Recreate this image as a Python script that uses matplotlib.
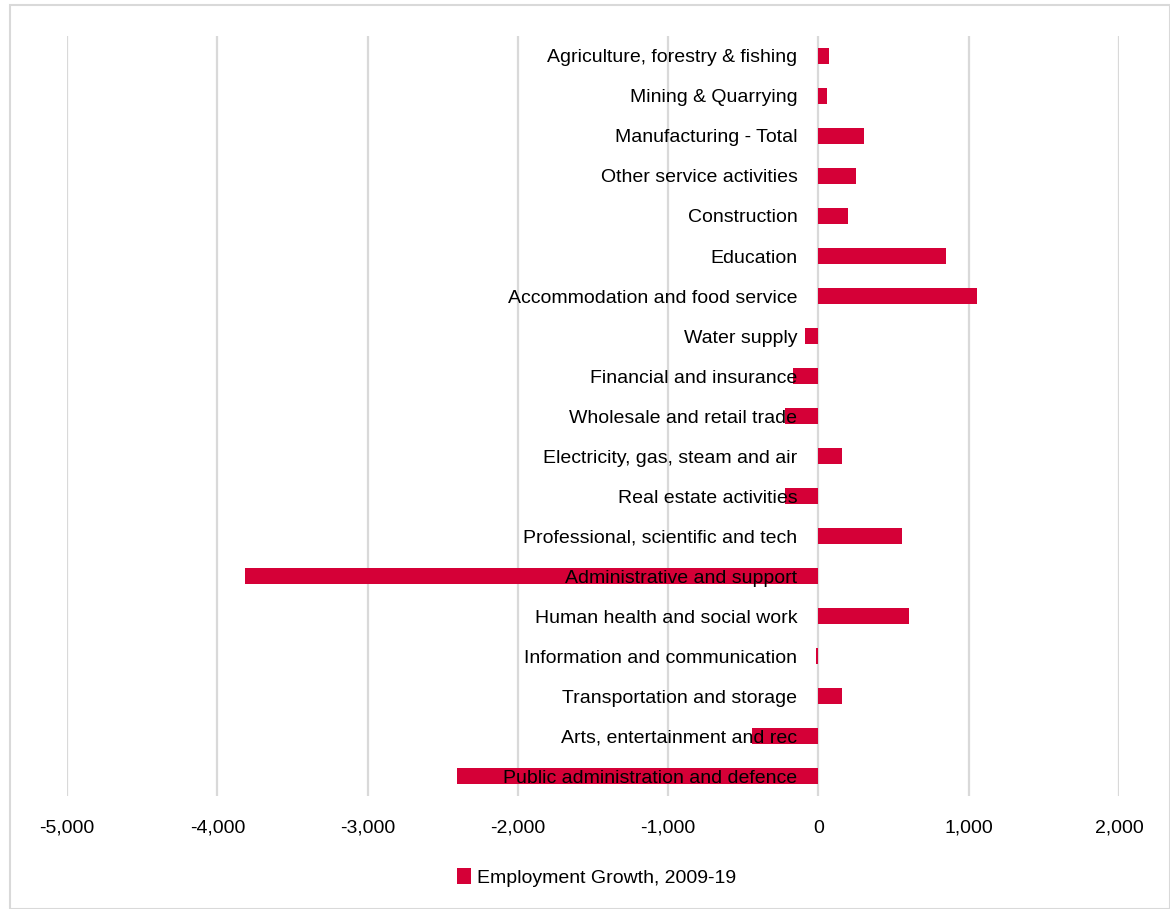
import matplotlib.pyplot as plt
from matplotlib.patches import Rectangle
from matplotlib.ticker import FuncFormatter

plt.rcParams['font.family'] = ['Liberation Sans Narrow', 'Liberation Sans', 'DejaVu Sans']

sectors = [
    "Agriculture, forestry & fishing",
    "Mining & Quarrying",
    "Manufacturing - Total",
    "Other service activities",
    "Construction",
    "Education",
    "Accommodation and food service",
    "Water supply",
    "Financial and insurance",
    "Wholesale and retail trade",
    "Electricity, gas, steam and air",
    "Real estate activities",
    "Professional, scientific and tech",
    "Administrative and support",
    "Human health and social work",
    "Information and communication",
    "Transportation and storage",
    "Arts, entertainment and rec",
    "Public administration and defence",
]
growth = [73, 60, 300, 249, 200, 848, 1055, -89, -171, -222, 158, -222,
          553, -3815, 604, -15, 158, -440, -2403]

fig = plt.figure(figsize=(11.7, 9.09), dpi=100)
ax = fig.add_axes([0.0573, 0.1243, 0.8991, 0.8361])

ypos = list(range(len(sectors)))
ax.barh(ypos, growth, height=0.4, color='#D50037', label='Employment Growth, 2009-19', zorder=2)

ax.set_xlim(-5000, 2000)
ax.set_ylim(len(sectors) - 0.5, -0.5)
ax.set_xticks(range(-5000, 2001, 1000))
ax.xaxis.set_major_formatter(FuncFormatter(lambda v, p: f"{int(v):,}"))
ax.grid(axis='x', color='#d9d9d9', linewidth=1.6, zorder=0)

# category labels sit just left of the zero line, like Excel
ax.set_yticks([])
for y, name in zip(ypos, sectors):
    ax.annotate(name, xy=(0, y), xytext=(-21, -2), textcoords='offset pixels',
                ha='right', va='center', fontsize=14, color='black', zorder=3)

for s in ax.spines.values():
    s.set_visible(False)
ax.tick_params(axis='x', length=0, pad=17, labelsize=14)

ax.legend(loc='center', bbox_to_anchor=(0.51, 0.035), bbox_transform=fig.transFigure,
          frameon=False, fontsize=14, handlelength=0.7, handleheight=0.9,
          handletextpad=0.3)

fig.patches.append(Rectangle((10 / 1170, 0), 1 - 10 / 1170, 1 - 5 / 909,
                             transform=fig.transFigure, fill=False,
                             edgecolor='#d9d9d9', linewidth=1.5))

fig.savefig('out.png', dpi=100)
